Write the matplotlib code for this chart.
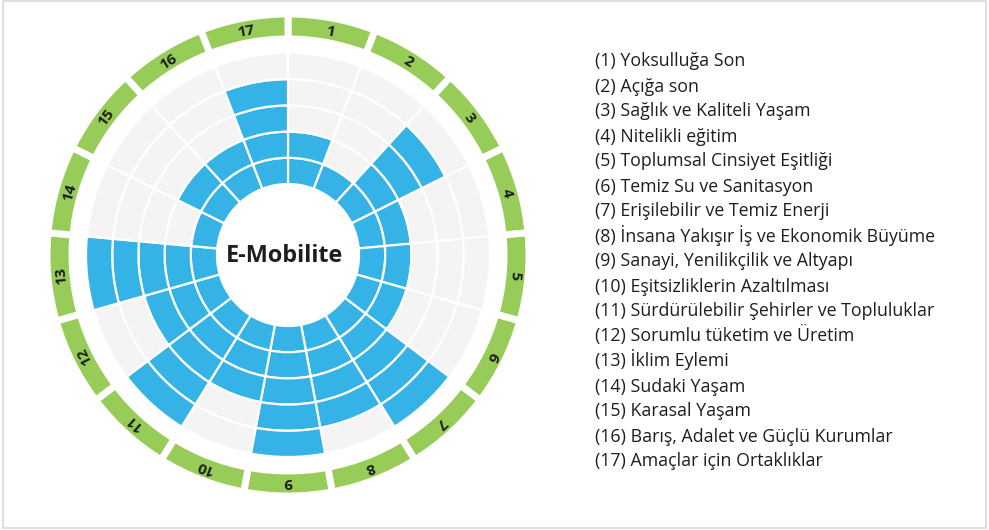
import matplotlib
matplotlib.use("Agg")
import matplotlib.pyplot as plt
import numpy as np
from matplotlib.patches import Rectangle

# ---- data ----
goal_numbers = list(range(1, 18))
goal_values = [2, 1, 4, 2, 2, 2, 5, 4, 5, 3, 5, 3, 5, 1, 2, 2, 4]
max_level = 5
center_label = "E-Mobilite"
goal_names = [
    "Yoksulluğa Son",
    "Açığa son",
    "Sağlık ve Kaliteli Yaşam",
    "Nitelikli eğitim",
    "Toplumsal Cinsiyet Eşitliği",
    "Temiz Su ve Sanitasyon",
    "Erişilebilir ve Temiz Enerji",
    "İnsana Yakışır İş ve Ekonomik Büyüme",
    "Sanayi, Yenilikçilik ve Altyapı",
    "Eşitsizliklerin Azaltılması",
    "Sürdürülebilir Şehirler ve Topluluklar",
    "Sorumlu tüketim ve Üretim",
    "İklim Eylemi",
    "Sudaki Yaşam",
    "Karasal Yaşam",
    "Barış, Adalet ve Güçlü Kurumlar",
    "Amaçlar için Ortaklıklar",
]

# ---- style ----
BLUE = "#36B3E6"
GREY = "#F5F4F5"
GREEN = "#97CC59"
TEXT = "#1E1E1E"
FONT = ["Open Sans", "DejaVu Sans"]
plt.rcParams["font.family"] = FONT

W, H = 989, 530
fig = plt.figure(figsize=(W / 100, H / 100), dpi=100)
fig.patch.set_facecolor("white")

# border
fig.add_artist(Rectangle((3 / W, 2 / H), 983 / W, 527 / H, transform=fig.transFigure,
                         fill=False, edgecolor="#D9D9D9", linewidth=1.2))

cx, cy = 288, H - 255
R = 242
ax = fig.add_axes([(cx - R) / W, (cy - R) / H, 2 * R / W, 2 * R / H], projection="polar")
ax.set_theta_zero_location("N")
ax.set_theta_direction(-1)
ax.set_ylim(0, R)
ax.axis("off")

n = len(goal_numbers)
step = 2 * np.pi / n
theta = np.arange(n) * step + step / 2
r0, r1 = 71, 202
rw = (r1 - r0) / max_level

for i in range(n):
    for j in range(max_level):
        ax.bar(theta[i], rw, width=step, bottom=r0 + j * rw,
               color=BLUE if j < goal_values[i] else GREY,
               edgecolor="white", linewidth=1.6, align="center")

g0, g1 = 216, 241
ax.bar(theta, g1 - g0, width=step, bottom=g0, color=GREEN,
       edgecolor="white", linewidth=5, align="center")

for i in range(n):
    deg = np.degrees(theta[i])
    ax.text(theta[i], 227.5, str(goal_numbers[i]), rotation=-deg,
            rotation_mode="anchor", ha="center", va="center",
            fontsize=11, fontweight="bold", color=TEXT)

fig.text((cx - 3) / W, (H - 262) / H, center_label, ha="center", va="baseline",
         fontsize=16.8, fontweight="bold", color=TEXT)

x0 = 595 / W
for i, name in enumerate(goal_names):
    y = H - (66.5 + i * 25)
    fig.text(x0, y / H, f"({goal_numbers[i]}) {name}", ha="left", va="baseline",
             fontsize=12.8, color=TEXT)

fig.savefig("out.png", dpi=100, facecolor="white")
